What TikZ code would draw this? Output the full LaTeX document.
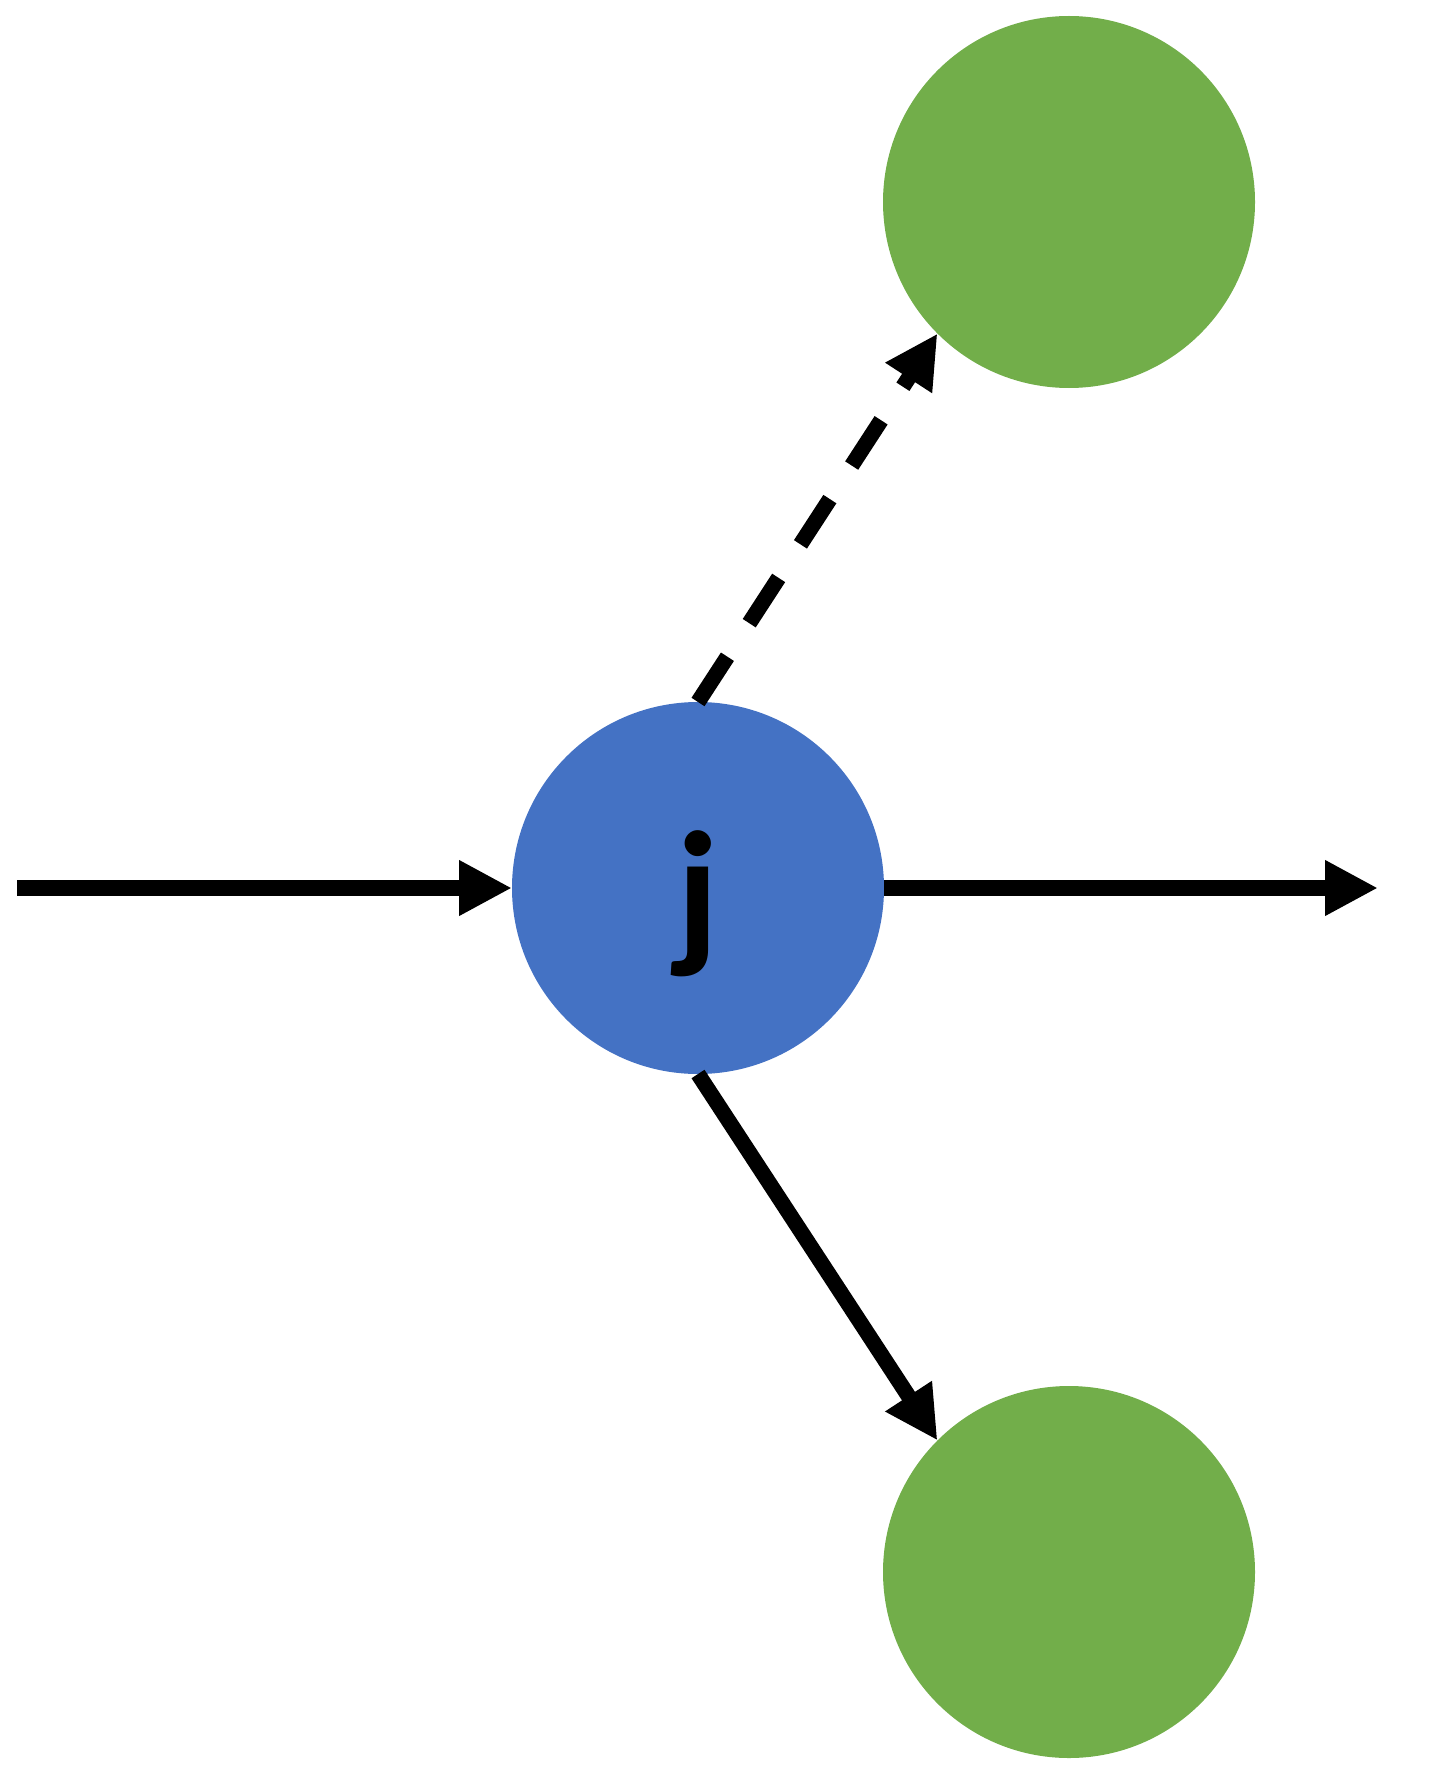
\documentclass[tikz,border=0pt]{standalone}
\usepackage{fontspec}
\newfontfamily\calib{Carlito}
\usetikzlibrary{arrows.meta}
\definecolor{nodeblue}{HTML}{4472C4}
\definecolor{nodegreen}{HTML}{72AE4A}
\begin{document}
\begin{tikzpicture}[x=1pt,y=-1pt,
  ball/.style={circle, minimum size=372pt, inner sep=0pt, outer sep=0pt},
  conn/.style={line width=15.5pt, -{Triangle[length=53pt,width=52pt]}},
  ]
\useasboundingbox (0,0) rectangle (1451,1776);
\node[ball, fill=nodeblue] (j) at (698,888) {};
\node[ball, fill=nodegreen] (g1) at (1069,202) {};
\node[ball, fill=nodegreen] (g2) at (1069,1572) {};
\node[anchor=base, inner sep=0pt, font=\calib\bfseries\fontsize{168}{170}\selectfont] (jl) at (698,948) {j};
\coordinate (in) at (17,888);
\coordinate (out) at (1378,888);
\draw[conn] (in) -- (j.west);
\draw[conn] (j.east) -- (out);
\draw[conn, dash pattern=on 54pt off 40pt] (j.north) -- (g1.south west);
\draw[conn] (j.south) -- (g2.north west);
\end{tikzpicture}
\end{document}
